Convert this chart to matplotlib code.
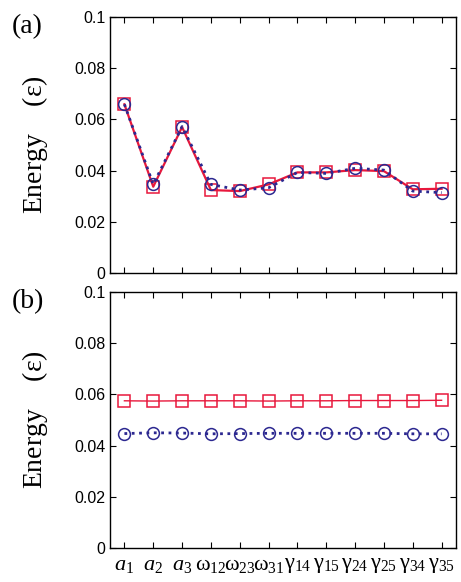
import matplotlib.pyplot as plt
import numpy as np

plt.rcParams['font.family'] = ['Liberation Sans', 'DejaVu Sans']
plt.rcParams['mathtext.fontset'] = 'custom'
plt.rcParams['mathtext.rm'] = 'Liberation Serif'
plt.rcParams['mathtext.it'] = 'Liberation Serif:italic'

params = [r'$a_1$', r'$a_2$', r'$a_3$',
          r'$\mathrm{\omega}_{12}$', r'$\mathrm{\omega}_{23}$', r'$\mathrm{\omega}_{31}$',
          r'$\mathrm{\gamma}_{14}$', r'$\mathrm{\gamma}_{15}$', r'$\mathrm{\gamma}_{24}$',
          r'$\mathrm{\gamma}_{25}$', r'$\mathrm{\gamma}_{34}$', r'$\mathrm{\gamma}_{35}$']

# panel (a)
a_red = [0.0659, 0.0337, 0.0570, 0.0324, 0.0320, 0.0346,
         0.0393, 0.0393, 0.0402, 0.0398, 0.0327, 0.0329]
a_blue = [0.0659, 0.0346, 0.0572, 0.0346, 0.0324, 0.0333,
          0.0393, 0.0389, 0.0409, 0.0402, 0.0320, 0.0314]

# panel (b)
b_red = [0.0575, 0.0574, 0.0575, 0.0575, 0.0575, 0.0574,
         0.0575, 0.0575, 0.0576, 0.0576, 0.0576, 0.0577]
b_blue = [0.0447, 0.0450, 0.0449, 0.0446, 0.0447, 0.0448,
          0.0448, 0.0448, 0.0448, 0.0448, 0.0446, 0.0446]

yticks = [0, 0.02, 0.04, 0.06, 0.08, 0.1]
ytick_labels = ['0', '0.02', '0.04', '0.06', '0.08', '0.1']

red = '#e8183c'
blue = '#2c2890'

fig = plt.figure(figsize=(4.61, 5.82), dpi=100)
ax1 = fig.add_axes([110 / 461, 1 - 273 / 582, 346 / 461, 256 / 582])
ax2 = fig.add_axes([110 / 461, 1 - 548 / 582, 346 / 461, 256 / 582])

x = np.arange(len(params))
panels = [(ax1, a_red, a_blue, '(a)', 1.6, 17), (ax2, b_red, b_blue, '(b)', 1.0, 292)]
for ax, red_vals, blue_vals, tag, lw, top_px in panels:
    ax.plot(x, red_vals, '-', color=red, lw=lw, marker='s', ms=9,
            mfc='none', mec=red, mew=1.1, zorder=2)
    ax.plot(x, blue_vals, ':', color=blue, lw=2.0, marker='o', ms=8.5,
            mfc='none', mec=blue, mew=1.1, zorder=3)
    ax.set_xlim(-0.5, len(params) - 0.5)
    ax.set_ylim(0, 0.1)
    ax.set_yticks(yticks)
    ax.set_yticklabels(ytick_labels, fontsize=11.5)
    ax.set_xticks(x)
    ax.tick_params(direction='in', top=True, right=True, length=4, width=0.8)
    ax.set_ylabel(r'Energy    ($\mathrm{\varepsilon}$)', family='Liberation Serif',
                  fontsize=20, labelpad=17)
    fig.text(12 / 461, 1 - (top_px - 3) / 582, tag, family='Liberation Serif',
             fontsize=20, va='top', ha='left')
    for s in ax.spines.values():
        s.set_linewidth(1.0)

ax1.set_xticklabels([])
ax2.set_xticklabels(params, fontsize=16)
ax2.tick_params(axis='x', pad=4)

fig.savefig('out.png', dpi=100)
